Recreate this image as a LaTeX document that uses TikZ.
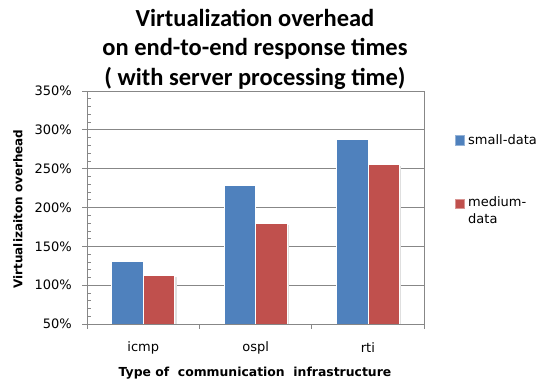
\documentclass[tikz,border=0pt]{standalone}
\usepackage{fontspec}
\setmainfont{DejaVu Sans}
\newfontfamily\titlefont{Carlito}
\definecolor{barblue}{HTML}{4F81BD}
\definecolor{barred}{HTML}{C0504D}
\definecolor{gridgray}{HTML}{878787}
\tikzset{
  bar/.style={draw=white, line width=0.7pt},
  grid/.style={draw=gridgray, line width=0.8pt},
  ticklab/.style={anchor=east, font=\fontsize{13}{15}\selectfont, inner sep=0pt},
  catlab/.style={font=\fontsize{13}{15}\selectfont, inner sep=0pt},
  legtext/.style={anchor=west, font=\fontsize{13}{17}\selectfont, inner sep=0pt, align=left},
}
\begin{document}
\begin{tikzpicture}[x=1pt,y=-1pt]
\useasboundingbox (0,0) rectangle (540,383);
% title
\node[font=\titlefont\bfseries\fontsize{24.5}{29.5}\selectfont, align=center, inner sep=0pt] (title) at (255,49)
  {Virtualization overhead\\on end-to-end response times\\( with server processing time)};
% grid lines (y = 324 - (v-50)*0.7767)
\foreach \v in {100,150,200,250,300,350} {
  \draw[grid] (87,{324-(\v-50)*0.7767}) -- (424,{324-(\v-50)*0.7767});
  \draw[grid] (82,{324-(\v-50)*0.7767}) -- (87,{324-(\v-50)*0.7767});
  \node[ticklab] at (72,{324-(\v-50)*0.7767}) {\v\%};
}
\node[ticklab] at (72,324) {50\%};
\draw[grid] (82,324) -- (87,324);
% minor ticks
\foreach \v in {60,70,80,90,110,120,130,140,160,170,180,190,210,220,230,240,260,270,280,290,310,320,330,340} {
  \draw[grid, line width=0.6pt] (87,{324-(\v-50)*0.7767}) -- (91,{324-(\v-50)*0.7767});
}
% right border
\draw[grid] (424,91) -- (424,324);
% bars
\foreach \c/\b/\r in {143.3/131/113, 255.6/228/180, 367.9/288/255} {
  \fill[gray!25] ({\c+1.5},324) rectangle ({\c+33.5},{324-(\r-50)*0.7767+1.5});
  \filldraw[bar, fill=barblue] ({\c-31.5},324) rectangle (\c,{324-(\b-50)*0.7767});
  \filldraw[bar, fill=barred] (\c,324) rectangle ({\c+31.5},{324-(\r-50)*0.7767});
}
% axes
\draw[grid] (87,91) -- (87,324);
\draw[grid] (87,324) -- (424,324);
\foreach \x in {87,199.3,311.7,424} \draw[grid] (\x,324) -- (\x,329);
% category labels
\node[catlab] (c1) at (143.3,348) {icmp};
\node[catlab] (c2) at (255.6,348) {ospl};
\node[catlab] (c3) at (367.9,348) {rti};
% axis titles
\node[font=\bfseries\fontsize{12.4}{14}\selectfont, inner sep=0pt] (xt) at (255,373) {Type of \ communication \ infrastructure};
\node[font=\bfseries\fontsize{12}{14}\selectfont, inner sep=0pt, rotate=90] (yt) at (18,209) {Virtualizaiton overhead};
% legend
\filldraw[draw=barblue!60, fill=barblue] (455,135) rectangle (464,145);
\node[legtext] (l1) at (468,140) {small-data};
\filldraw[draw=barred!60, fill=barred] (455,199) rectangle (464,208);
\node[legtext, anchor=north west] (l2) at (468,196) {medium-\\data};
\end{tikzpicture}
\end{document}
